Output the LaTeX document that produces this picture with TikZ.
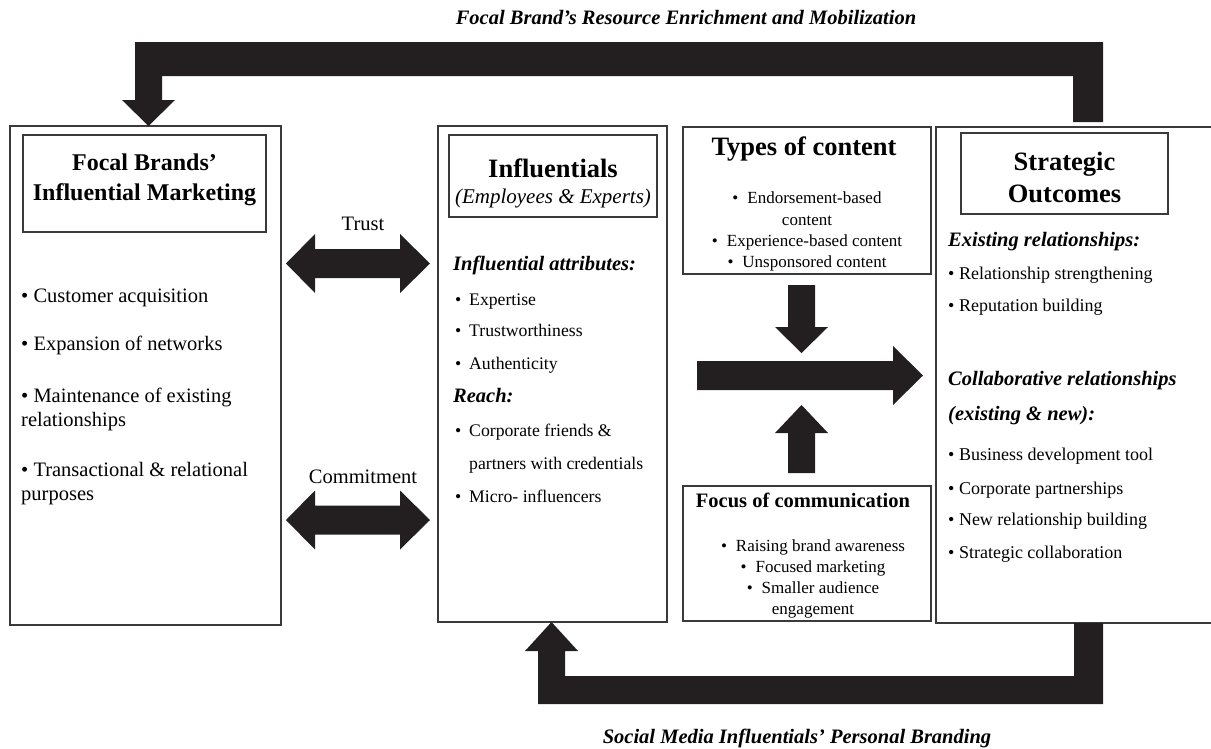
\documentclass[tikz,border=0pt]{standalone}
\usepackage{fontspec}
\setmainfont{Liberation Serif}
\usetikzlibrary{%
  positioning,%
  calc%
}
\definecolor{arrowblack}{HTML}{231F20}
\definecolor{framegray}{HTML}{3A3A3A}

\begin{document}
\begin{tikzpicture}
[x=1pt, y=-1pt, line join=miter,
frame/.style={draw=framegray, line width=1.1pt, inner sep=0pt, outer sep=0pt, anchor=north west},
blockarrow/.style={fill=arrowblack, draw=none},
txt/.style={inner sep=0pt, anchor=base},
txtl/.style={inner sep=0pt, anchor=base west},
flowlabel/.style={txt, font=\fontsize{20.5}{24}\selectfont\bfseries\itshape},
bigbold/.style={font=\fontsize{26.5}{30}\selectfont\bfseries},
midbold/.style={font=\fontsize{24}{28}\selectfont\bfseries},
subhead/.style={font=\fontsize{20.5}{24}\selectfont\bfseries\itshape},
leftitem/.style={font=\fontsize{20.5}{24}\selectfont},
miditem/.style={font=\fontsize{17.7}{21}\selectfont},
centeritem/.style={font=\fontsize{17}{20}\selectfont},
rightitem/.style={font=\fontsize{18}{21}\selectfont}]

\useasboundingbox (0,0) rectangle (1211,748);

% main boxes
\node[frame, minimum width=271pt, minimum height=499pt] (brand) at (10,126) {};
\node[frame, minimum width=229pt, minimum height=496pt] (infl) at (438,126) {};
\node[frame, minimum width=248pt, minimum height=147pt] (types) at (683,127) {};
\node[frame, minimum width=248pt, minimum height=135pt] (focus) at (683,486) {};
\node[frame, minimum width=277pt, minimum height=496pt] (outcome) at (936,127) {};

% heading boxes
\node[frame, minimum width=243pt, minimum height=97pt] (brandhead) at (23,135) {};
\node[frame, minimum width=208pt, minimum height=82pt] (inflhead) at (449,135) {};
\node[frame, minimum width=207pt, minimum height=81pt] (outhead) at (961,133) {};

% feedback loops
\fill[blockarrow] (1103,122) -- (1103,42) -- (135,42) -- (135,100) -- (122,100)
  -- (148.5,0 |- brand.north) -- (175,100) -- (162,100) -- (162,76) -- (1073,76) -- (1073,122) -- cycle;
\fill[blockarrow] (1074,0 |- outcome.south) -- (1103,0 |- outcome.south) -- (1103,704) -- (538,704) -- (538,651)
  -- (525,651) -- (551.5,0 |- infl.south) -- (578,651) -- (565,651) -- (565,676) -- (1074,676) -- cycle;
\node[flowlabel] (enrich) at (686,24) {Focal Brand’s Resource Enrichment and Mobilization};
\node[flowlabel] (branding) at (797,743) {Social Media Influentials’ Personal Branding};

% trust and commitment
\foreach \cy in {263.5,520}
  \fill[blockarrow] (286,\cy) -- (315,\cy-29.5) -- (315,\cy-14.5) -- (400,\cy-14.5) -- (400,\cy-29.5)
    -- (430,\cy) -- (400,\cy+29.5) -- (400,\cy+14.5) -- (315,\cy+14.5) -- (315,\cy+29.5) -- cycle;
\node[txt, font=\fontsize{20.5}{24}\selectfont] (trust) at (363,230) {Trust};
\node[txt, font=\fontsize{20.5}{24}\selectfont] (commit) at (363,483) {Commitment};

% content and focus into outcomes
\fill[blockarrow] (788,285) -- (815,285) -- (815,327) -- (828,327) -- (801.5,353) -- (775,327) -- (788,327) -- cycle;
\fill[blockarrow] (788,473) -- (815,473) -- (815,433) -- (828,433) -- (801.5,405) -- (775,433) -- (788,433) -- cycle;
\fill[blockarrow] (697,361) -- (893,361) -- (893,346) -- (923,375.5) -- (893,405) -- (893,390) -- (697,390) -- cycle;

% focal brand
\foreach \y/\t in {170/Focal Brands’, 200/Influential Marketing}
  \node[txt, midbold] (brandtitle\y) at (144.5,\y) {\t};
\foreach \y/\t in {302/\textbullet\ Customer acquisition, 350/\textbullet\ Expansion of networks,
  402/\textbullet\ Maintenance of existing, 426/relationships,
  476/\textbullet\ Transactional \& relational, 500/purposes}
  \node[txtl, leftitem] (branditem\y) at (21,\y) {\t};

% influentials
\node[txt, bigbold] (infltitle) at (553,177) {Influentials};
\node[txt, font=\fontsize{21}{25}\selectfont\itshape] (inflsub) at (553,203) {(Employees \& Experts)};
\node[txtl, subhead] (attrhead) at (453,270) {Influential attributes:};
\node[txtl, subhead] (reachhead) at (453,402) {Reach:};
\foreach \y/\t in {305/Expertise, 336/Trustworthiness, 369/Authenticity, 436/Corporate friends \&, 502/Micro- influencers}
  {\node[txtl, miditem] (inflbul\y) at (455,\y) {\textbullet};
   \node[txtl, miditem] (inflitem\y) at (469,\y) {\t};}
\node[txtl, miditem] (inflitem469) at (469,469) {partners with credentials};

% types of content
\node[txt, bigbold] (typestitle) at (804,155) {Types of content};
\foreach \y/\t in {203/\textbullet\hspace{9pt}Endorsement-based, 225/content,
  246/\textbullet\hspace{9pt}Experience-based content, 267/\textbullet\hspace{9pt}Unsponsored content}
  \node[txt, centeritem] (typesitem\y) at (807,\y) {\t};

% focus of communication
\node[txt, font=\fontsize{20.5}{24}\selectfont\bfseries] (focustitle) at (803,507) {Focus of communication};
\foreach \y/\t in {551/\textbullet\hspace{9pt}Raising brand awareness, 572/\textbullet\hspace{9pt}Focused marketing,
  593/\textbullet\hspace{9pt}Smaller audience, 614/engagement}
  \node[txt, centeritem] (focusitem\y) at (813,\y) {\t};

% strategic outcomes
\foreach \y/\t in {170/Strategic, 202/Outcomes}
  \node[txt, bigbold] (outtitle\y) at (1064.5,\y) {\t};
\foreach \y/\t in {246/Existing relationships:, 385/Collaborative relationships, 420/(existing \& new):}
  \node[txtl, subhead] (outhead\y) at (948,\y) {\t};
\foreach \y/\t in {279/Relationship strengthening, 311/Reputation building, 460/Business development tool,
  494/Corporate partnerships, 525/New relationship building, 558/Strategic collaboration}
  \node[txtl, rightitem] (outitem\y) at (948,\y) {\textbullet\ \t};
\end{tikzpicture}
\end{document}
